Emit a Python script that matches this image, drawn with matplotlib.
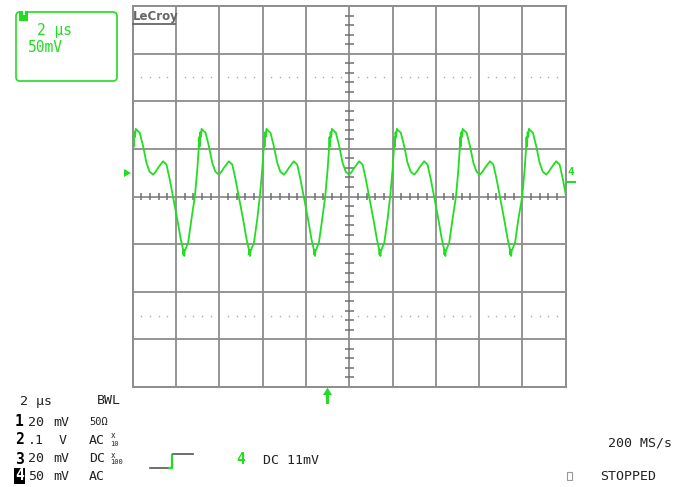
import numpy as np
import matplotlib
matplotlib.use("Agg")
import matplotlib.pyplot as plt
from matplotlib.patches import FancyBboxPatch, Rectangle, Polygon

# peak positions of each cycle (divisions from screen centre)
peak_pos = [-4.90, -3.38, -1.88, -0.37, 1.13, 2.65, 4.18]

# one cycle of the trace relative to its peak (x in div, y in div)
shape_dx = [-0.184, -0.128, -0.10, -0.085, -0.075, -0.06, -0.045, -0.03, 0.0,
            0.062, 0.139, 0.217, 0.29, 0.37, 0.43, 0.485, 0.60, 0.68, 0.755,
            0.83, 0.93, 1.01, 1.06, 1.07, 1.08, 1.09, 1.10, 1.18, 1.256]
shape_dy = [0.0, 0.57, 0.95, 1.25, 1.05, 1.35, 1.25, 1.42, 1.39,
            1.34, 1.06, 0.71, 0.52, 0.46, 0.52, 0.60, 0.74, 0.67, 0.36,
            0.0, -0.48, -0.90, -1.10, -1.22, -1.12, -1.25, -1.15, -0.97, -0.48]

W, H = 693, 487
GRID = "#8c8c8c"
GREEN = "#22dd22"
TXT = "#222222"
MONO = "DejaVu Sans Mono"

fig = plt.figure(figsize=(W / 100, H / 100), dpi=100)
ax = fig.add_axes([132.7 / W, 1 - 387 / H, 433 / W, 381 / H])
ax.set_xlim(-5, 5)
ax.set_ylim(-4, 4)
ax.set_xticks([])
ax.set_yticks([])
for s in ax.spines.values():
    s.set_color(GRID)
    s.set_linewidth(1.4)

# graticule
for i in range(-4, 5):
    ax.axvline(i, color=GRID, lw=1.3, zorder=1)
for j in range(-3, 4):
    ax.axhline(j, color=GRID, lw=1.3, zorder=1)

minor_x = [v for v in np.arange(-5, 5.001, 0.2) if abs(v - round(v)) > 1e-6]
minor_y = [v for v in np.arange(-4, 4.001, 0.2) if abs(v - round(v)) > 1e-6]
ax.vlines(minor_x, -0.07, 0.07, color="#707070", lw=1.1, zorder=1)
ax.hlines(minor_y, -0.1, 0.1, color="#707070", lw=1.1, zorder=1)
for yy in (2.5, -2.5):
    ax.plot(minor_x, [yy] * len(minor_x), "s", ms=1.0, mew=0, color="#aaaaaa", zorder=1)

# trace
tx, ty = [], []
for p in peak_pos:
    tx += [p + d for d in shape_dx]
    ty += shape_dy
ax.plot(tx, ty, color=GREEN, lw=1.3, zorder=3)

# overlay in pixel coordinates
ov = fig.add_axes([0, 0, 1, 1])
ov.set_xlim(0, W)
ov.set_ylim(H, 0)
ov.set_axis_off()

# top-left box
ov.add_patch(FancyBboxPatch((16, 12), 101, 69, boxstyle="round,pad=0,rounding_size=4",
                            fill=False, ec=GREEN, lw=1.2))
ov.add_patch(Rectangle((19, 11), 9, 9.5, color=GREEN, lw=0))
ov.add_patch(Rectangle((22.7, 11), 2.5, 4, color="white", lw=0))
ov.text(37, 30, "2 µs", color=GREEN, family=MONO, fontsize=10.5, va="center")
ov.text(28, 47, "50mV", color=GREEN, family=MONO, fontsize=10.5, va="center")

# logo
ov.text(133, 16.5, "LeCroy", color="#666666", family="DejaVu Sans", fontweight="bold",
        fontsize=8.5, va="center")
ov.plot([133, 175], [24, 24], color="#666666", lw=1.3)

# markers
ov.add_patch(Polygon([(124, 169), (124, 177), (131, 173)], color=GREEN, lw=0))
ov.text(567, 172, "4", color=GREEN, family=MONO, fontweight="bold", fontsize=8, va="center")
ov.plot([566, 575], [182, 182], color=GREEN, lw=1.5)
ov.add_patch(Polygon([(323, 395), (332, 395), (327.5, 387.5)], color=GREEN, lw=0))
ov.add_patch(Rectangle((326.2, 394), 2.6, 10, color=GREEN, lw=0))

# bottom info text
ov.text(20, 401, "2 µs", color=TXT, family=MONO, fontsize=9.5, va="center")
ov.text(97, 401, "BWL", color=TXT, family=MONO, fontsize=9.5, va="center")

rows_y = [422, 440, 459, 476]
ch_labels = ["1", "2", "3", "4"]
volts = ["20", ".1", "20", "50"]
units = ["mV", "V", "mV", "mV"]
unit_x = [53, 59, 53, 53]
coupling = ["50Ω", "AC", "DC", "AC"]
probe = ["", "10", "100", ""]

for y, ch, v, u, ux, c, pr in zip(rows_y, ch_labels, volts, units, unit_x, coupling, probe):
    if ch == "4":
        ov.text(15, y, ch, color="white", family=MONO, fontweight="bold", fontsize=10.5,
                va="center", bbox=dict(facecolor="black", edgecolor="none", pad=0.6))
    else:
        ov.text(15, y, ch, color="black", family=MONO, fontweight="bold", fontsize=10.5,
                va="center")
    ov.text(28, y, v, color=TXT, family=MONO, fontsize=9.5, va="center")
    ov.text(ux, y, u, color=TXT, family=MONO, fontsize=9.5, va="center")
    ov.text(89, y, c, color=TXT, family=MONO, fontsize=9.5 if c != "50Ω" else 7.5,
            va="center")
    if pr:
        ov.text(111, y - 4, "x", color=TXT, family=MONO, fontsize=5.5, va="center")
        ov.text(110, y + 3.5, pr, color=TXT, family=MONO, fontsize=5, va="center")

# trigger step symbol
ov.plot([150, 169], [468, 468], color="#555555", lw=1.2)
ov.plot([169, 171.5, 171.5], [468, 468, 454.5], color=GREEN, lw=1.6)
ov.plot([173, 192.5], [454, 454], color="#555555", lw=1.2)
ov.text(236, 460, "4", color=GREEN, family=MONO, fontweight="bold", fontsize=10.5, va="center")
ov.text(263, 460, "DC 11mV", color=TXT, family=MONO, fontsize=9.5, va="center")

ov.text(608, 443, "200 MS/s", color=TXT, family=MONO, fontsize=9.5, va="center")
ov.add_patch(Rectangle((567, 471.5), 5, 8, fill=False, ec="#999999", lw=0.8))
ov.text(600, 477, "STOPPED", color=TXT, family=MONO, fontsize=9.5, va="center")

fig.savefig("out.png", dpi=100)
